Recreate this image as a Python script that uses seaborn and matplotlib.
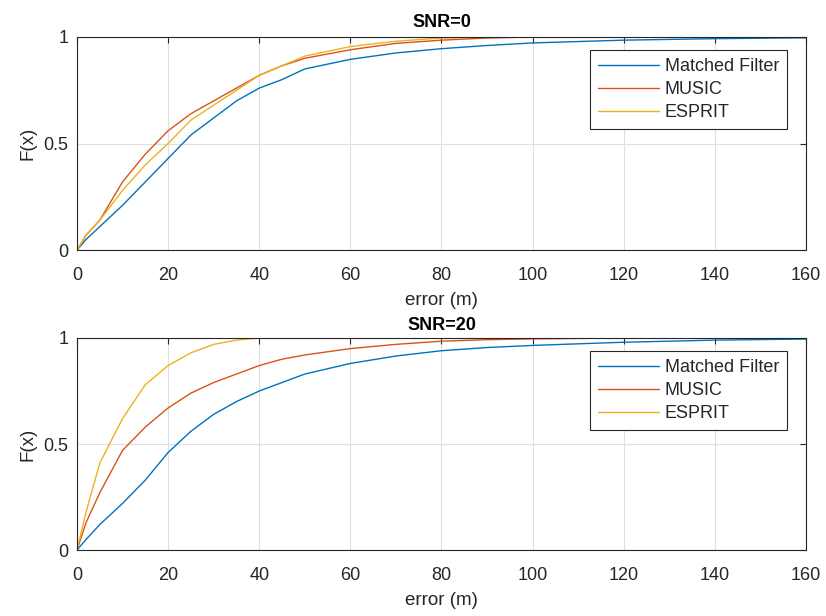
import numpy as np
import pandas as pd
import matplotlib
matplotlib.use("Agg")
import matplotlib.pyplot as plt
import seaborn as sns

sns.set_theme(style="white")
plt.rcParams['font.family'] = ['Liberation Sans', 'DejaVu Sans']

# error (m) sample points
err = [0, 2, 5, 10, 15, 20, 25, 30, 35, 40, 45, 50, 60, 70, 80, 90, 100, 120, 140, 160]

# SNR = 0
mf_0     = [0, 0.05, 0.11, 0.21, 0.32, 0.43, 0.54, 0.62, 0.70, 0.76, 0.80, 0.85, 0.895, 0.925, 0.945, 0.96, 0.972, 0.985, 0.992, 0.996]
music_0  = [0, 0.07, 0.14, 0.32, 0.45, 0.56, 0.64, 0.70, 0.76, 0.82, 0.865, 0.90, 0.94, 0.97, 0.985, 0.995, 1.0, 1.0, 1.0, 1.0]
esprit_0 = [0, 0.07, 0.14, 0.28, 0.40, 0.50, 0.61, 0.68, 0.75, 0.82, 0.865, 0.91, 0.955, 0.98, 0.995, 1.0, 1.0, 1.0, 1.0, 1.0]

# SNR = 20
mf_20     = [0, 0.05, 0.12, 0.22, 0.33, 0.46, 0.56, 0.64, 0.70, 0.75, 0.79, 0.83, 0.88, 0.915, 0.94, 0.955, 0.965, 0.98, 0.99, 0.995]
music_20  = [0, 0.13, 0.27, 0.47, 0.58, 0.67, 0.74, 0.79, 0.83, 0.87, 0.90, 0.92, 0.95, 0.97, 0.985, 0.992, 0.996, 1.0, 1.0, 1.0]
esprit_20 = [0, 0.18, 0.41, 0.62, 0.78, 0.87, 0.93, 0.97, 0.99, 1.0, 1.0, 1.0, 1.0, 1.0, 1.0, 1.0, 1.0, 1.0, 1.0, 1.0]

methods = ["Matched Filter", "MUSIC", "ESPRIT"]
colors = ["#0072BD", "#D95319", "#EDB120"]
titles = ["SNR=0", "SNR=20"]
x_ticks = [0, 20, 40, 60, 80, 100, 120, 140, 160]
y_ticks = [0, 0.5, 1]
y_tick_labels = ["0", "0.5", "1"]

panels = [[mf_0, music_0, esprit_0], [mf_20, music_20, esprit_20]]

fig = plt.figure(figsize=(8.26, 6.16), dpi=100)
positions = [[0.0932, 0.594, 0.8826, 0.346], [0.0932, 0.1071, 0.8826, 0.3442]]
title_pads = [7, 6]

for pos, title, series, tpad in zip(positions, titles, panels, title_pads):
    ax = fig.add_axes(pos)
    rows = []
    for m, vals in zip(methods, series):
        for x, v in zip(err, vals):
            rows.append({"error": x, "F": v, "method": m})
    df = pd.DataFrame(rows)
    sns.lineplot(data=df, x="error", y="F", hue="method", hue_order=methods,
                 palette=colors, linewidth=1.0, ax=ax, sort=True)
    ax.set_xlim(0, 160)
    ax.set_ylim(0, 1)
    ax.set_xticks(x_ticks)
    ax.set_yticks(y_ticks)
    ax.set_yticklabels(y_tick_labels)
    ax.grid(True, color="#DFDFDF", linewidth=0.8)
    ax.set_axisbelow(True)
    for s in ax.spines.values():
        s.set_color("#262626")
        s.set_linewidth(0.8)
        s.set_visible(True)
    ax.tick_params(direction="in", length=4, width=0.8, colors="#262626",
                   labelsize=13, top=True, right=True, labelcolor="#262626")
    ax.tick_params(axis="x", pad=12)
    ax.tick_params(axis="y", pad=6)
    ax.set_xlabel("error (m)", fontsize=13.5, color="#262626", labelpad=6)
    ax.set_ylabel("F(x)", fontsize=13.5, color="#262626", labelpad=5)
    ax.set_title(title, fontsize=13, fontweight="bold", color="#000000", pad=tpad)
    leg = ax.legend(loc="upper right", bbox_to_anchor=(0.974, 0.939), fontsize=13,
                    frameon=True, fancybox=False, handlelength=3.4, handletextpad=0.3,
                    borderpad=0.45, labelspacing=0.33, borderaxespad=0)
    leg.get_frame().set_edgecolor("#262626")
    leg.get_frame().set_linewidth(0.8)
    leg.get_frame().set_alpha(1)
    for t in leg.get_texts():
        t.set_color("#262626")

fig.savefig("out.png", dpi=100)
